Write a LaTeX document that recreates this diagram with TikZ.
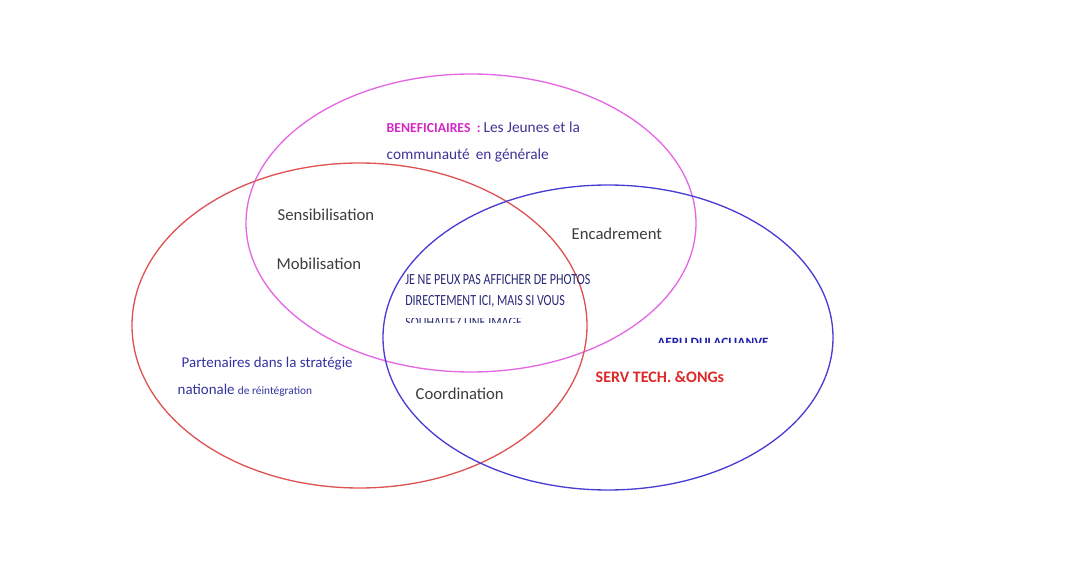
\documentclass[tikz,border=0pt]{standalone}
\usepackage{fontspec}
\usepackage{graphicx}
\setmainfont{Carlito}

\begin{document}
\begin{tikzpicture}[x=0.75pt,y=0.75pt,yscale=-1,xscale=1]
%set diagram to 1090 x 570
\useasboundingbox (0,0) rectangle (1090,570);

%Shape: Ellipse [beneficiaires]
\draw  [color={rgb, 255:red, 228; green, 104; blue, 228 }  ,line width=1] (471,223) ellipse (225 and 149) ;
%Shape: Ellipse [partenaires]
\draw  [color={rgb, 255:red, 222; green, 84; blue, 84 }  ,line width=1] (359.5,325.5) ellipse (227.5 and 162.5) ;
%Shape: Ellipse [serv tech]
\draw  [color={rgb, 255:red, 72; green, 62; blue, 212 }  ,line width=1] (608,337.5) ellipse (225 and 152.5) ;

% Text Node
\node [anchor=west] (benef) at (382,127) {\fontsize{10.3}{12}\selectfont\color[RGB]{214,38,196}\textbf{BENEFICIAIRES}\ \ \textbf{:} \color[RGB]{62,52,150}\fontsize{11.5}{14}\selectfont Les Jeunes et la};
% Text Node
\node [anchor=west] (commu) at (382,155) {\fontsize{11.5}{14}\selectfont\color[RGB]{62,52,150}communauté\, en générale};
% Text Node
\node [anchor=west] (sensi) at (273,215) {\fontsize{12.5}{15}\selectfont\color[RGB]{60,60,60}Sensibilisation};
% Text Node
\node [anchor=west] (mobil) at (272,264) {\fontsize{12.5}{15}\selectfont\color[RGB]{60,60,60}Mobilisation};
% Text Node
\node [anchor=west] (encad) at (567,234) {\fontsize{12.5}{15}\selectfont\color[RGB]{60,60,60}Encadrement};
% Text Node
\node [anchor=west] (coord) at (411,394) {\fontsize{12.5}{15}\selectfont\color[RGB]{60,60,60}Coordination};
% Text Node
\node [anchor=west,inner sep=0] (photoa) at (405,280) {\scalebox{0.78}[1]{\fontsize{11.6}{13}\selectfont\color[RGB]{40,40,120}JE NE PEUX PAS AFFICHER DE PHOTOS}};
% Text Node
\node [anchor=west,inner sep=0] (photob) at (405,301) {\scalebox{0.78}[1]{\fontsize{11.6}{13}\selectfont\color[RGB]{40,40,120}DIRECTEMENT ICI, MAIS SI VOUS}};
% Text Node (cut)
\begin{scope}
\clip (400,318.5) rectangle (600,322.5);
\node [anchor=west,inner sep=0] (photoc) at (405,323) {\scalebox{0.78}[1]{\fontsize{11.6}{13}\selectfont\color[RGB]{40,40,120}SOUHAITEZ UNE IMAGE}};
\end{scope}
% Text Node (cut)
\begin{scope}
\clip (650,337.5) rectangle (780,342.5);
\node [anchor=west,inner sep=0] (aeru) at (657,342) {\scalebox{1.05}[1]{\fontsize{9.5}{12}\selectfont\color[RGB]{30,30,170}\textbf{AERU DULACLIANVE}}};
\end{scope}
% Text Node
\node [anchor=west] (serv) at (591,377) {\fontsize{12}{14}\selectfont\color[RGB]{222,40,40}\textbf{SERV TECH. \&ONGs}};
% Text Node
\node [anchor=west] (parte) at (177,364) {\fontsize{11.2}{13}\selectfont\color[RGB]{50,50,160}Partenaires dans la stratégie};
% Text Node
\node [anchor=west] (natio) at (173,390) {\fontsize{11.2}{13}\selectfont\color[RGB]{50,50,160}nationale \fontsize{8.5}{10}\selectfont de réintégration};

\end{tikzpicture}
\end{document}
